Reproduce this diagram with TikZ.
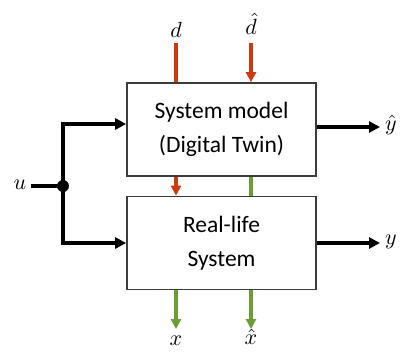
\documentclass[tikz,border=0pt]{standalone}
\usepackage{graphicx}
\usepackage{fontspec}
\setmainfont{Carlito}
\usetikzlibrary{arrows.meta}
\definecolor{distred}{RGB}{206,58,16}
\definecolor{stategreen}{RGB}{104,158,52}
\definecolor{boxgray}{RGB}{60,60,60}
\newcommand\siglbl[1]{\scalebox{2.2}{$#1$}}
\tikzset{
  blockbox/.style={draw=boxgray, line width=1.7pt, minimum width=189pt, minimum height=93pt,
    align=center, font=\fontsize{23.5}{34}\selectfont, inner sep=0pt},
  sigline/.style={line width=4pt, -{Triangle[length=11pt,width=11pt]}},
  redline/.style={distred, line width=3.2pt},
  greenline/.style={stategreen, line width=3.2pt},
  colarrow/.style={-{Triangle[length=10pt,width=10pt]}},
  mathlbl/.style={font=\normalsize, inner sep=0pt},
}
\begin{document}
\begin{tikzpicture}[x=1pt,y=1pt]
\useasboundingbox (0,0) rectangle (407,-351);
% blocks
\node[blockbox] (model) at (221.5,-129.5) {System model\\(Digital Twin)};
\node[blockbox] (real) at (221.5,-243) {Real-life\\System};
% input u and branch point
\node[mathlbl] (u) at (20,-185) {\siglbl{u}};
\coordinate (split) at (63,-186);
\draw[line width=4pt] (31,-186) -- (split);
\fill (split) circle (6pt);
\draw[sigline] (split) |- (model.west |- 0,-124);
\draw[sigline] (split) |- (real.west |- 0,-243);
% outputs
\node[mathlbl, anchor=west] (yhat) at (385,-125) {\siglbl{\hat{y}}};
\node[mathlbl, anchor=west] (y) at (385,-242) {\siglbl{y}};
\draw[sigline] (model.east |- 0,-127) -- (380,-127);
\draw[sigline] (real.east |- 0,-243) -- (380,-243);
% disturbances
\node[mathlbl] (d) at (176,-30) {\siglbl{d}};
\node[mathlbl] (dhat) at (251,-24) {\siglbl{\hat{d}}};
\draw[redline] (176,-43) -- (model.north -| d);
\draw[redline, colarrow] (251,-43) -- (model.north -| dhat);
% links between the blocks
\draw[redline, colarrow] (model.south -| d) -- (real.north -| d);
\draw[greenline] (model.south -| dhat) -- (real.north -| dhat);
% states
\node[mathlbl] (x) at (176,-341) {\siglbl{x}};
\node[mathlbl] (xhat) at (251,-337) {\siglbl{\hat{x}}};
\draw[greenline, colarrow] (real.south -| x) -- (176,-329);
\draw[greenline, colarrow] (real.south -| xhat) -- (251,-329);
\end{tikzpicture}
\end{document}
